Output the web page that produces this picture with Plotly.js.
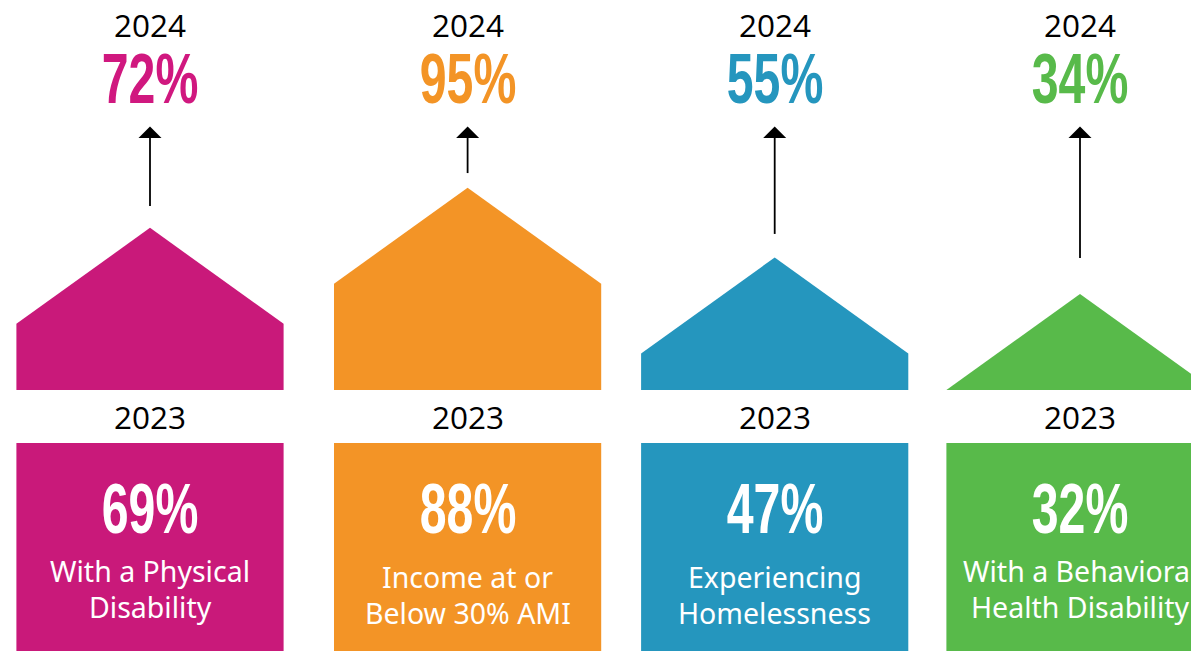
<!DOCTYPE html>
<html>
<head>
<meta charset="utf-8">
<script src="https://cdn.plot.ly/plotly-3.0.1.min.js"></script>
<style>html,body{margin:0;padding:0;background:#fff;overflow:hidden}#chart{width:1191px;height:651px}</style>
</head>
<body>
<div id="chart"></div>
<script>
// ---- data ----
var categories = ["With a Physical<br>Disability", "Income at or<br>Below 30% AMI", "Experiencing<br>Homelessness", "With a Behavioral<br>Health Disability"];
var values2023 = [69, 88, 47, 32];
var values2024 = [72, 95, 55, 34];
var colors = ["#C9197A", "#F39426", "#2596BE", "#58BA4A"];
var arrowStart = [84.5, 103.4, 68.5, 54.7];   // value at which each arrow's shaft begins

// ---- layout constants ----
var W = 1191, H = 651;
var centers = [150, 467.6, 774.7, 1080];
var halfW = 133.6;
var pxPerUnit = 1.744, zeroPx = 353.4;   // y axis: pixels per percentage point, pixel row of 0%
function v(py) { return (zeroPx - py) / pxPerUnit; }
var baseline = v(390), roofRise = 96 / pxPerUnit;
var boxTop = v(443), boxBottom = v(700);
var arrowTip = v(126.5), headBase = v(138), headHalf = 11.5;
var labelTop = [571, 577, 577, 571], labelStep = 36;

var traces = [], annotations = [];
function txt(x, py, text, size, color, family, weight) {
  annotations.push({xref: "x", yref: "y", x: x, y: v(py), text: text, showarrow: false,
    xanchor: "center", yanchor: "middle", align: "center",
    font: {size: size, color: color, family: family, weight: weight || 400}});
}
categories.forEach(function (cat, i) {
  var c = centers[i], L = c - halfW, R = c + halfW;
  var apex = values2024[i];
  var shoulder = Math.max(apex - roofRise, baseline);
  // 2024 house
  traces.push({type: "scatter", mode: "lines", fill: "toself", fillcolor: colors[i], line: {width: 0},
    x: [L, L, c, R, R, L], y: [baseline, shoulder, apex, shoulder, baseline, baseline], hoverinfo: "skip"});
  // 2023 box
  traces.push({type: "scatter", mode: "lines", fill: "toself", fillcolor: colors[i], line: {width: 0},
    x: [L, L, R, R, L], y: [boxBottom, boxTop, boxTop, boxBottom, boxBottom], hoverinfo: "skip"});
  // arrow shaft
  traces.push({type: "scatter", mode: "lines", line: {color: "#000", width: 1.8},
    x: [c, c], y: [arrowStart[i], headBase], hoverinfo: "skip"});
  // arrow head
  traces.push({type: "scatter", mode: "lines", fill: "toself", fillcolor: "#000", line: {width: 0},
    x: [c - headHalf, c, c + headHalf, c - headHalf], y: [headBase, arrowTip, headBase, headBase], hoverinfo: "skip"});

  txt(c, 24, "2024", 31.5, "#000", "Open Sans");
  txt(c, 78, values2024[i] + "%", 71, i === 0 ? "#D0187F" : colors[i], "Liberation Sans", 700);
  txt(c, 416, "2023", 31.5, "#000", "Open Sans");
  txt(c, 508, values2023[i] + "%", 71, "#fff", "Liberation Sans", 700);
  cat.split("<br>").forEach(function (line, k) {
    txt(c, labelTop[i] + k * labelStep, line, 28.5, "#fff", "Noto Sans");
  });
});

var layout = {
  width: W, height: H, margin: {l: 0, r: 0, t: 0, b: 0}, showlegend: false,
  paper_bgcolor: "#fff", plot_bgcolor: "#fff", hovermode: false,
  xaxis: {range: [0, W], visible: false, fixedrange: true},
  yaxis: {range: [v(H), v(0)], visible: false, fixedrange: true},
  annotations: annotations
};
Plotly.newPlot("chart", traces, layout, {displayModeBar: false, staticPlot: true}).then(function (gd) {
  // the reference's percentages use a condensed display face: narrow the bold sans to match
  gd.querySelectorAll(".annotation-text").forEach(function (t) {
    if (/^\d+%$/.test(t.textContent)) {
      t.style.transformBox = "fill-box";
      t.style.transformOrigin = "center";
      t.style.transform = "scaleX(0.68)";
    }
  });
});
</script>
</body>
</html>
